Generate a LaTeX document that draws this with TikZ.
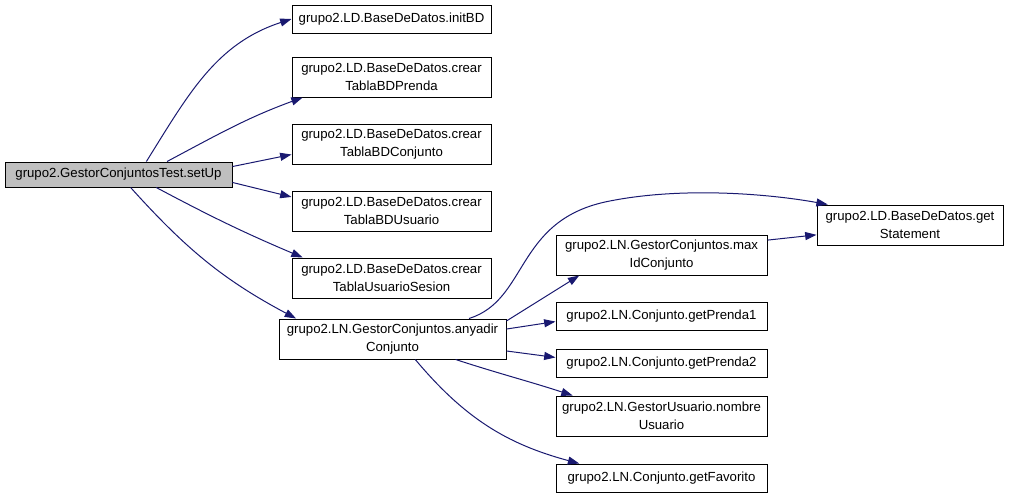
\documentclass[tikz,border=0pt]{standalone}
\usepackage{fontspec}
\setmainfont{Liberation Sans}
\usetikzlibrary{arrows.meta}
\definecolor{edgeblue}{RGB}{25,25,112}
\definecolor{rootgray}{RGB}{191,191,191}
\begin{document}
\begin{tikzpicture}[
    x=0.75pt, y=-0.75pt,
    fn/.style={rectangle, draw, line width=0.75pt, inner sep=0pt, align=center, minimum height=21pt, font=\fontsize{9.9}{13.5}\selectfont},
    tall/.style={minimum height=30pt},
    colb/.style={minimum width=149.25pt},
    colc/.style={minimum width=158.25pt},
    call/.style={-{Triangle[length=8.5pt,width=6pt]}, draw=edgeblue, line width=0.75pt}
]
\useasboundingbox (0,0) rectangle (1009,500);
% Caller
\node[fn, fill=rootgray, minimum width=170.25pt, minimum height=18.75pt] (setup) at (118.5,174.5) {grupo2.GestorConjuntosTest.setUp};
% Second level
\node[fn, colb] (initbd) at (391.5,19) {grupo2.LD.BaseDeDatos.initBD};
\node[fn, colb, tall] (prenda) at (391.5,77) {grupo2.LD.BaseDeDatos.crear\\TablaBDPrenda};
\node[fn, colb, tall] (conjunto) at (391.5,144) {grupo2.LD.BaseDeDatos.crear\\TablaBDConjunto};
\node[fn, colb, tall] (usuario) at (391.5,211) {grupo2.LD.BaseDeDatos.crear\\TablaBDUsuario};
\node[fn, colb, tall] (sesion) at (391.5,278) {grupo2.LD.BaseDeDatos.crear\\TablaUsuarioSesion};
\node[fn, tall, minimum width=170.25pt] (anyadir) at (392.5,339) {grupo2.LN.GestorConjuntos.anyadir\\Conjunto};
% Third level
\node[fn, tall, minimum width=139.5pt] (statement) at (910,225) {grupo2.LD.BaseDeDatos.get\\Statement};
\node[fn, colc, tall] (maxid) at (661.5,255) {grupo2.LN.GestorConjuntos.max\\IdConjunto};
\node[fn, colc] (prenda1) at (661.5,316) {grupo2.LN.Conjunto.getPrenda1};
\node[fn, colc] (prenda2) at (661.5,363) {grupo2.LN.Conjunto.getPrenda2};
\node[fn, colc, tall] (nombre) at (661.5,416) {grupo2.LN.GestorUsuario.nombre\\Usuario};
\node[fn, colc] (favorito) at (661.5,478) {grupo2.LN.Conjunto.getFavorito};
% Calls from setUp
\draw[call] (setup.25) to[out=58, in=198] (initbd.west);
\draw[call] (setup.15) to[out=28, in=200] (prenda.193);
\draw[call] (setup.4) -- (conjunto.186);
\draw[call] (setup.356) -- (usuario.172);
\draw[call] (setup.341) to[out=-28, in=157] (sesion.167);
\draw[call] (setup.313) to[out=-48, in=152] (anyadir.168);
% Calls from anyadirConjunto
\draw[call] (anyadir.15) .. controls (528,300) and (515,222) .. (605,202)
    .. controls (680,186) and (770,194) .. (statement.166);
\draw[call] (anyadir.9) -- (maxid.194);
\draw[call] (maxid.8) -- (statement.186);
\draw[call] (anyadir.5) -- (prenda1.183);
\draw[call] (anyadir.354.5) -- (prenda2.177);
\draw[call] (anyadir.342) to[out=-18, in=162] (nombre.167);
\draw[call] (anyadir.318) to[out=-50, in=165] (favorito.170);
\end{tikzpicture}
\end{document}
